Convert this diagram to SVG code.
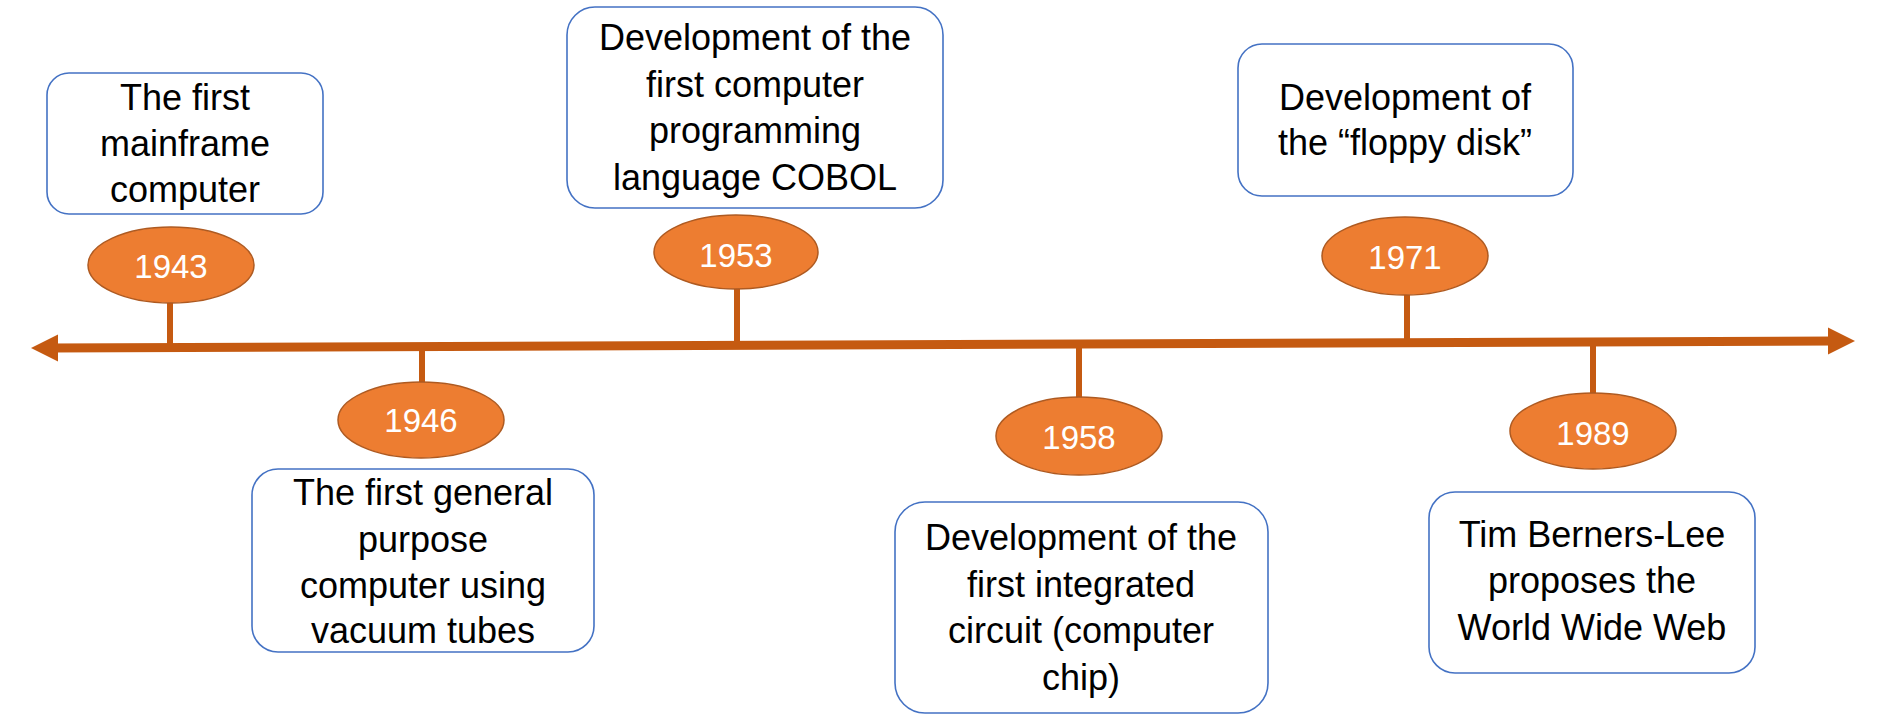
<svg xmlns="http://www.w3.org/2000/svg" width="1886" height="728" viewBox="0 0 1886 728">
<style>
.box{fill:#fff;stroke:#4472C4;stroke-width:1.6}
.lbl{font-family:"Liberation Sans",Arial,sans-serif;font-size:36px;fill:#000;text-anchor:middle}
.yr{fill:#ED7D31;stroke:#AE5A21;stroke-width:1.5}
.yt{font-family:"Liberation Sans",Arial,sans-serif;font-size:33px;fill:#fff;text-anchor:middle}
.ln{stroke:#C55A11;fill:none}
.hd{fill:#C55A11}
</style>
<rect width="1886" height="728" fill="#fff"/>
<g id="connectors">
<line class="ln" x1="50" y1="348" x2="1836" y2="341" stroke-width="9"/>
<polygon class="hd" points="31,348 58,334.5 58,361.5"/>
<polygon class="hd" points="1855,341 1828,327.5 1828,354.5"/>
<line class="ln" x1="170" y1="303" x2="170" y2="348" stroke-width="6"/>
<line class="ln" x1="422" y1="346" x2="422" y2="382" stroke-width="6"/>
<line class="ln" x1="737" y1="289" x2="737" y2="346" stroke-width="6"/>
<line class="ln" x1="1079" y1="343" x2="1079" y2="398" stroke-width="6"/>
<line class="ln" x1="1407" y1="295" x2="1407" y2="343" stroke-width="6"/>
<line class="ln" x1="1593" y1="341" x2="1593" y2="393" stroke-width="6"/>
</g>
<g id="n1943">
<rect class="box" x="47" y="73" width="276" height="141" rx="22"/>
<text class="lbl" x="185" y="110">The first</text>
<text class="lbl" x="185" y="156">mainframe</text>
<text class="lbl" x="185" y="202">computer</text>
<ellipse class="yr" cx="171" cy="265" rx="83" ry="38"/>
<text class="yt" x="171" y="278">1943</text>
</g>
<g id="n1946">
<ellipse class="yr" cx="421" cy="420" rx="83" ry="38"/>
<text class="yt" x="421" y="432">1946</text>
<rect class="box" x="252" y="469" width="342" height="183" rx="26"/>
<text class="lbl" x="423" y="505">The first general</text>
<text class="lbl" x="423" y="552">purpose</text>
<text class="lbl" x="423" y="598">computer using</text>
<text class="lbl" x="423" y="643">vacuum tubes</text>
</g>
<g id="n1953">
<rect class="box" x="567" y="7" width="376" height="201" rx="28"/>
<text class="lbl" x="755" y="50">Development of the</text>
<text class="lbl" x="755" y="97">first computer</text>
<text class="lbl" x="755" y="143">programming</text>
<text class="lbl" x="755" y="190">language COBOL</text>
<ellipse class="yr" cx="736" cy="252" rx="82" ry="37"/>
<text class="yt" x="736" y="267">1953</text>
</g>
<g id="n1958">
<ellipse class="yr" cx="1079" cy="436" rx="83" ry="39"/>
<text class="yt" x="1079" y="449">1958</text>
<rect class="box" x="895" y="502" width="373" height="211" rx="30"/>
<text class="lbl" x="1081" y="550">Development of the</text>
<text class="lbl" x="1081" y="597">first integrated</text>
<text class="lbl" x="1081" y="643">circuit (computer</text>
<text class="lbl" x="1081" y="690">chip)</text>
</g>
<g id="n1971">
<rect class="box" x="1238" y="44" width="335" height="152" rx="24"/>
<text class="lbl" x="1405" y="110">Development of</text>
<text class="lbl" x="1405" y="155">the “floppy disk”</text>
<ellipse class="yr" cx="1405" cy="256" rx="83" ry="39"/>
<text class="yt" x="1405" y="269">1971</text>
</g>
<g id="n1989">
<ellipse class="yr" cx="1593" cy="431" rx="83" ry="38"/>
<text class="yt" x="1593" y="445">1989</text>
<rect class="box" x="1429" y="492" width="326" height="181" rx="26"/>
<text class="lbl" x="1592" y="547">Tim Berners-Lee</text>
<text class="lbl" x="1592" y="593">proposes the</text>
<text class="lbl" x="1592" y="640">World Wide Web</text>
</g>
</svg>
